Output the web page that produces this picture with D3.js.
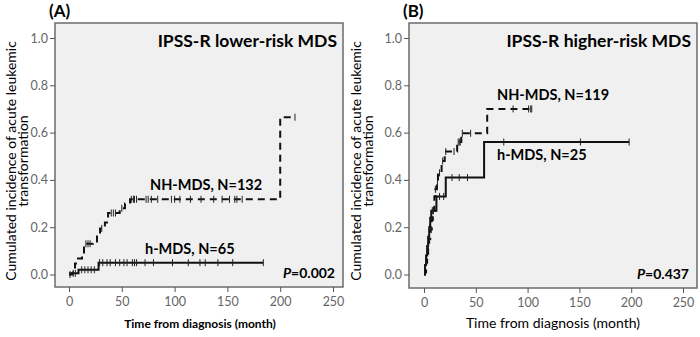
<!DOCTYPE html>
<html>
<head>
<meta charset="utf-8">
<script src="https://cdn.jsdelivr.net/npm/d3@7"></script>
<style>
  body { margin: 0; background: #fff; }
  svg text { font-family: Lato, "Open Sans", sans-serif; }
</style>
</head>
<body>
<div id="chart"></div>
<script>
// ---- data ----
let xTicks = [0, 50, 100, 150, 200, 250];
let yTicks = [0.0, 0.2, 0.4, 0.6, 0.8, 1.0];

// panel A : lower-risk
let aNhSteps = [[0, 0], [1, 0.005], [3.8, 0.025], [5.7, 0.047], [8.5, 0.068], [12.3, 0.093], [14.2, 0.13],
    [22.7, 0.135], [26.5, 0.17], [29.4, 0.195], [34, 0.22], [37, 0.26], [48, 0.28], [53, 0.30],
    [57.8, 0.318], [200, 0.665], [214, 0.665]];
let aNhCensor = [16, 18, 20, 31, 40, 42, 44, 50, 59, 61, 62, 64, 73, 75, 78, 84, 97, 100, 105, 115,
    125, 137, 145, 152, 157, 159, 164, 214];
let aHSteps = [[0, 0], [3, 0.005], [9, 0.02], [28, 0.05], [184, 0.05]];
let aHCensor = [1, 4, 6, 12, 15, 18, 21, 24, 29, 32, 36, 39, 44, 48, 52, 55, 60, 62, 64, 72, 80, 98,
    113, 124, 129, 141, 155, 184];

// panel B : higher-risk
let bNhSteps = [[0, 0], [1, 0.01], [2, 0.05], [3, 0.08], [4, 0.11], [5, 0.15], [6, 0.19], [7.5, 0.23],
    [8.5, 0.27], [10, 0.33], [11, 0.36], [12.5, 0.385], [13.5, 0.43], [17, 0.48], [20, 0.52],
    [32, 0.56], [36, 0.597], [61, 0.70], [104, 0.70]];
let bNhCensor = [2, 4, 5, 7, 9, 11, 13, 15, 18, 21, 29, 33, 34, 35, 37, 45, 86, 101, 103, 104];
let bHSteps = [[0, 0], [1, 0.04], [2, 0.08], [3, 0.12], [4, 0.16], [5, 0.20], [6, 0.24], [7, 0.27],
    [12, 0.33], [21, 0.41], [58, 0.56], [198, 0.56]];
let bHCensor = [1.5, 3.5, 5.5, 8, 9, 15, 19, 27, 34, 42, 77, 151, 198];

let panels = [
    {tag: "(A)", title: "IPSS-R lower-risk MDS", box: [55, 23, 343, 287], x0: 69, x250: 333,
        nh: aNhSteps, nhC: aNhCensor, h: aHSteps, hC: aHCensor,
        nhLabel: "NH-MDS, N=132", nhPos: [150, 190], hLabel: "h-MDS, N=65", hPos: [145, 254],
        p: "0.002", xTitleBold: true, yTitleOff: 39},
    {tag: "(B)", title: "IPSS-R higher-risk MDS", box: [409, 23, 697, 288], x0: 424, x250: 683,
        nh: bNhSteps, nhC: bNhCensor, h: bHSteps, hC: bHCensor,
        nhLabel: "NH-MDS, N=119", nhPos: [497, 100], hLabel: "h-MDS, N=25", hPos: [497, 160],
        p: "0.437", xTitleBold: false, yTitleOff: 48}
];

let svg = d3.select("#chart").append("svg")
    .attr("width", 700)
    .attr("height", 337);

function valueAt(steps, t) {
    let i = d3.bisector(d => d[0]).right(steps, t) - 1;
    return steps[Math.max(0, i)][1];
}

function drawPanel(p) {
    let [l, t, r, b] = p.box;
    let g = svg.append("g");

    let x = d3.scaleLinear().domain([0, 250]).range([p.x0, p.x250]);
    let y = d3.scaleLinear().domain([0, 1]).range([274.5, 38]);

    // panel tag
    g.append("text").text(p.tag)
        .attr("x", l - 6).attr("y", 17)
        .attr("font-weight", "bold").attr("font-size", 17);

    // plot box
    g.append("rect")
        .attr("x", l).attr("y", t)
        .attr("width", r - l).attr("height", b - t)
        .attr("fill", "#f0f0f0")
        .attr("stroke", "#6b6b6b").attr("stroke-width", 1.5);

    // y axis
    let yAxis = g.append("g")
        .attr("transform", "translate(" + l + ",0)")
        .call(d3.axisLeft(y).tickValues(yTicks).tickFormat(d3.format(".1f")).tickSize(5).tickSizeOuter(0));
    yAxis.select(".domain").remove();
    yAxis.selectAll("line").attr("stroke", "#555");
    yAxis.selectAll("text")
        .attr("font-family", "'Liberation Sans', Arial, sans-serif")
        .attr("font-size", 12.5).attr("fill", "#666").attr("dx", 1);

    // x axis
    let xAxis = g.append("g")
        .attr("transform", "translate(0," + b + ")")
        .call(d3.axisBottom(x).tickValues(xTicks).tickSize(5).tickSizeOuter(0));
    xAxis.select(".domain").remove();
    xAxis.selectAll("line").attr("stroke", "#555");
    xAxis.selectAll("text")
        .attr("font-family", "'Liberation Sans', Arial, sans-serif")
        .attr("font-size", 12.5).attr("fill", "#666").attr("dy", "0.9em");

    // axis titles
    let xt = g.append("text").text("Time from diagnosis (month)")
        .attr("text-anchor", "middle")
        .attr("y", 328);
    if (p.xTitleBold) {
        xt.attr("x", 200).attr("font-weight", "bold").attr("font-size", 12);
    } else {
        xt.attr("x", 553).attr("font-size", 14);
    }

    let yt = g.append("g")
        .attr("transform", "translate(" + (l - p.yTitleOff) + ",161) rotate(-90)");
    yt.append("text").text("Cumulated incidence of acute leukemic")
        .attr("text-anchor", "middle").attr("y", 0).attr("font-size", 14);
    yt.append("text").text("transformation")
        .attr("text-anchor", "middle").attr("y", 12).attr("font-size", 14);

    // curves
    let line = d3.line()
        .x(d => x(d[0]))
        .y(d => y(d[1]))
        .curve(d3.curveStepAfter);

    g.append("path").datum(p.h)
        .attr("d", line)
        .attr("fill", "none").attr("stroke", "#111").attr("stroke-width", 2);

    g.append("path").datum(p.nh)
        .attr("d", line)
        .attr("fill", "none").attr("stroke", "#111").attr("stroke-width", 2)
        .attr("stroke-dasharray", "7,5");

    // censor marks
    let marks = [];
    p.hC.forEach(c => marks.push([c, valueAt(p.h, c)]));
    p.nhC.forEach(c => marks.push([c, valueAt(p.nh, c)]));
    g.selectAll(null)
        .data(marks)
        .enter().append("line")
        .attr("class", "censor")
        .attr("x1", d => x(d[0])).attr("x2", d => x(d[0]))
        .attr("y1", d => y(d[1]) - 3.5).attr("y2", d => y(d[1]) + 3.5)
        .attr("stroke", "#222").attr("stroke-width", 1);

    // labels
    g.append("text").text(p.title)
        .attr("x", r - 6).attr("y", 47)
        .attr("text-anchor", "end")
        .attr("font-weight", "bold").attr("font-size", 17.5);

    g.append("text").text(p.nhLabel)
        .attr("x", p.nhPos[0]).attr("y", p.nhPos[1])
        .attr("font-weight", "bold").attr("font-size", 14.5);

    g.append("text").text(p.hLabel)
        .attr("x", p.hPos[0]).attr("y", p.hPos[1])
        .attr("font-weight", "bold").attr("font-size", 14.5);

    let pt = g.append("text")
        .attr("x", r - 8).attr("y", b - 9)
        .attr("text-anchor", "end")
        .attr("font-weight", "bold").attr("font-size", 14);
    pt.append("tspan").text("P").attr("font-style", "italic");
    pt.append("tspan").text("=" + p.p);
}

panels.forEach(drawPanel);
</script>
</body>
</html>
